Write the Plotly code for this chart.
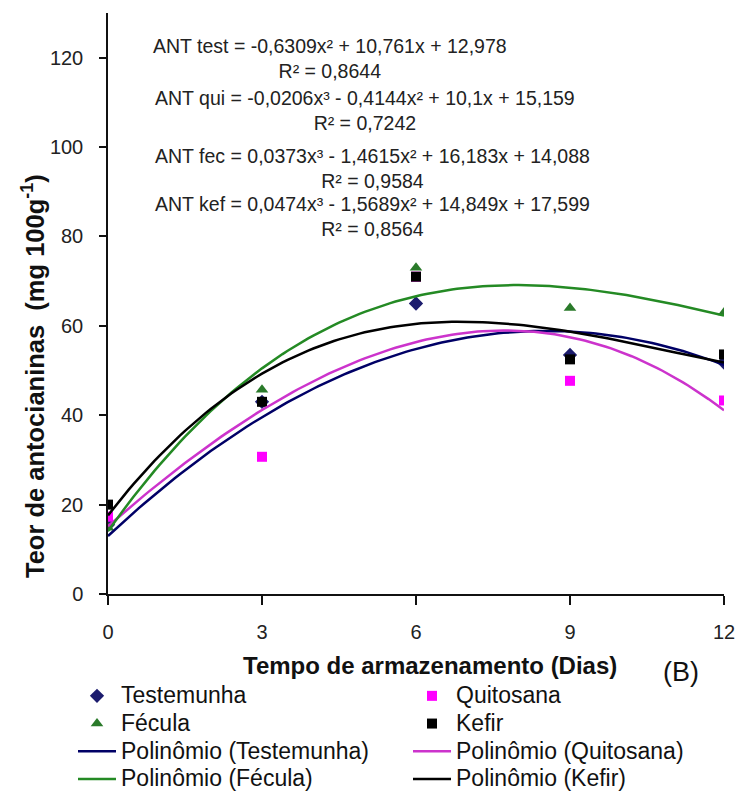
import numpy as np
import plotly.graph_objects as go

# ---- data ----
dias = [0, 3, 6, 9, 12]
testemunha = [15.5, 43.0, 65.0, 53.5, 51.8]
quitosana = [17.3, 30.7, 71.0, 47.7, 43.3]
fecula = [14.8, 45.7, 73.0, 64.0, 63.0]
kefir = [20.0, 43.0, 71.0, 52.5, 53.6]

# trendline coefficients printed on the chart (highest power first)
coef_test = [-0.6309, 10.761, 12.978]
coef_qui = [-0.0206, -0.4144, 10.1, 15.159]
coef_fec = [0.0373, -1.4615, 16.183, 14.088]
coef_kef = [0.0474, -1.5689, 14.849, 17.599]

eq_texts = [
    ("ANT test = -0,6309x² + 10,761x + 12,978", "R² = 0,8644"),
    ("ANT qui = -0,0206x³ - 0,4144x² + 10,1x + 15,159", "R² = 0,7242"),
    ("ANT fec = 0,0373x³ - 1,4615x² + 16,183x + 14,088", "R² = 0,9584"),
    ("ANT kef = 0,0474x³ - 1,5689x² + 14,849x + 17,599", "R² = 0,8564"),
]

y_ticks = [0, 20, 40, 60, 80, 100, 120]
x_ticks = [0, 3, 6, 9, 12]

FONT = "Liberation Sans, Arial, sans-serif"

W, H = 741, 791
L, R, T, B = 108, 17, 13, 197
PW, PH = W - L - R, H - T - B


def px(xp):
    return (xp - L) / PW


def py(yp):
    return (H - B - yp) / PH


def leg_name(s):
    return '<span style="font-size:23px">' + s + "</span>"


fig = go.Figure()

scatter_specs = [
    ("Testemunha", testemunha, "diamond", "#1c1c6e", 11, "legend"),
    ("Quitosana", quitosana, "square", "#ff00ff", 10, "legend2"),
    ("Fécula", fecula, "triangle-up", "#2a7a2a", 11, "legend"),
    ("Kefir", kefir, "square", "#000000", 10, "legend2"),
]
for name, vals, sym, col, sz, lg in scatter_specs:
    fig.add_trace(go.Scatter(
        x=dias, y=vals, mode="markers", name=leg_name(name), legend=lg,
        marker=dict(symbol=sym, color=col, size=sz, line=dict(width=0)),
    ))

xs = np.linspace(0, 12, 121)
line_specs = [
    ("Polinômio (Testemunha)", coef_test, "#000066", "legend"),
    ("Polinômio (Quitosana)", coef_qui, "#cc33cc", "legend2"),
    ("Polinômio (Fécula)", coef_fec, "#248a24", "legend"),
    ("Polinômio (Kefir)", coef_kef, "#000000", "legend2"),
]
for name, coef, col, lg in line_specs:
    fig.add_trace(go.Scatter(
        x=xs, y=np.polyval(coef, xs), mode="lines", name=leg_name(name), legend=lg,
        line=dict(color=col, width=2.5),
    ))

annotations = []
eq_rows = [(47, 70, 330), (99, 121, 365), (157, 180, 372), (205, 228, 372)]
for (eq, r2), (y1, y2, xc) in zip(eq_texts, eq_rows):
    annotations.append(dict(text=eq + "<br>" + r2, x=px(xc), y=py((y1 + y2) / 2),
                            xref="paper", yref="paper", align="center",
                            xanchor="center", yanchor="middle", showarrow=False,
                            font=dict(family=FONT, size=19.5, color="#222222")))

annotations.append(dict(text="<b>Teor de antocianinas  (mg 100g<sup>-1</sup>)</b>",
                        x=px(33), y=py(376), xref="paper", yref="paper",
                        xanchor="center", yanchor="middle", textangle=-90, showarrow=False,
                        font=dict(family=FONT, size=25.5, color="#111111")))
annotations.append(dict(text="<b>Tempo de armazenamento (Dias)</b>",
                        x=px(430), y=py(666), xref="paper", yref="paper",
                        xanchor="center", yanchor="middle", showarrow=False,
                        font=dict(family=FONT, size=24, color="#111111")))
annotations.append(dict(text="(B)",
                        x=px(681), y=py(672), xref="paper", yref="paper",
                        xanchor="center", yanchor="middle", showarrow=False,
                        font=dict(family=FONT, size=27, color="#111111")))

leg_common = dict(
    orientation="v", xref="paper", yref="container",
    xanchor="left", yanchor="top",
    font=dict(family=FONT, size=19, color="#111111"),
    traceorder="normal", tracegroupgap=0, itemsizing="trace", itemwidth=38,
    bgcolor="rgba(0,0,0,0)", borderwidth=0,
)

fig.update_layout(
    width=W, height=H,
    margin=dict(l=L, r=R, t=T, b=B, pad=0, autoexpand=False),
    paper_bgcolor="white", plot_bgcolor="white",
    font=dict(family=FONT, size=20, color="#222222"),
    showlegend=True,
    legend=dict(x=px(73), y=1 - 677 / H, **leg_common),
    legend2=dict(x=px(408), y=1 - 677 / H, **leg_common),
    annotations=annotations,
)

fig.update_xaxes(
    range=[0, 12], tickvals=x_ticks, ticktext=[str(v) for v in x_ticks],
    showgrid=False, zeroline=False, showline=True, linecolor="#111111", linewidth=1.5,
    ticks="outside", ticklen=9, tickwidth=1.5, tickcolor="#111111",
    ticklabelstandoff=10,
    tickfont=dict(family=FONT, size=20, color="#222222"),
)
fig.update_yaxes(
    range=[0, 130], tickvals=y_ticks, ticktext=[str(v) for v in y_ticks],
    showgrid=False, zeroline=False, showline=True, linecolor="#111111", linewidth=1.5,
    ticks="outside", ticklen=7, tickwidth=1.5, tickcolor="#111111",
    ticklabelstandoff=12,
    tickfont=dict(family=FONT, size=20, color="#222222"),
)

fig.write_html("out.html")
